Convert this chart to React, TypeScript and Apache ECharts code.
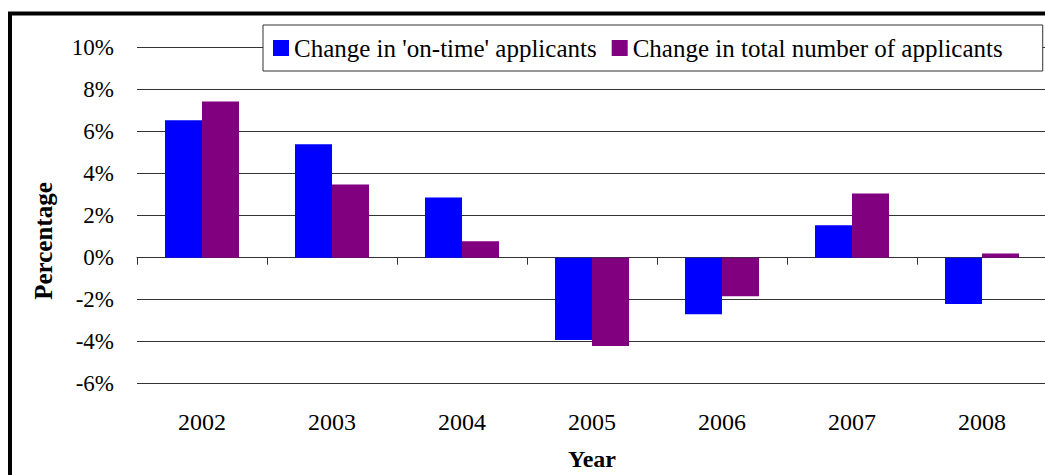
import React, { useEffect, useRef } from "react";
import * as echarts from "echarts";

const years = ["2002", "2003", "2004", "2005", "2006", "2007", "2008"];
const onTimeChange = [6.54, 5.4, 2.87, -3.92, -2.69, 1.54, -2.21];
const totalChange = [7.44, 3.49, 0.78, -4.21, -1.83, 3.06, 0.2];
const seriesNames = [
  "Change in 'on-time' applicants",
  "Change in total number of applicants",
];
const yTicks = { min: -6, max: 10, interval: 2 };

const FONT = "Liberation Serif";

export default function App() {
  const ref = useRef<HTMLDivElement>(null);
  useEffect(() => {
    document.body.style.margin = "0";
    document.body.style.overflow = "hidden";
    const chart = echarts.init(ref.current!, null, { renderer: "svg" });
    chart.setOption({
      animation: false,
      backgroundColor: "#fff",
      textStyle: { fontFamily: FONT },
      grid: {
        left: 137,
        top: 47.7,
        width: 910,
        height: 336,
        containLabel: false,
        outerBoundsMode: "none",
      },
      legend: {
        data: seriesNames,
        left: 263,
        top: 25,
        orient: "horizontal",
        icon: "rect",
        itemWidth: 16,
        itemHeight: 16,
        itemGap: 15,
        padding: [10, 40, 10, 10],
        backgroundColor: "#fff",
        borderColor: "#333",
        borderWidth: 1,
        borderRadius: 0,
        textStyle: { fontSize: 25, fontFamily: FONT, color: "#000", lineHeight: 26 },
      },
      xAxis: {
        type: "category",
        data: years,
        axisLine: { onZero: true, lineStyle: { color: "#333", width: 1 } },
        axisTick: { show: true, length: 7, lineStyle: { color: "#333", width: 1 } },
        axisLabel: { margin: 26, fontSize: 24, fontFamily: FONT, color: "#000" },
        splitLine: { show: false },
        name: "Year",
        nameLocation: "middle",
        nameGap: 63,
        nameTextStyle: { fontSize: 24, fontWeight: "bold", fontFamily: FONT, color: "#000" },
      },
      yAxis: {
        type: "value",
        min: yTicks.min,
        max: yTicks.max,
        interval: yTicks.interval,
        axisLine: { show: false },
        axisTick: { show: false },
        splitLine: { show: true, lineStyle: { color: "#333", width: 1 } },
        axisLabel: {
          formatter: "{value}%",
          margin: 23,
          fontSize: 23,
          fontFamily: FONT,
          color: "#000",
        },
      },
      series: [
        {
          name: seriesNames[0],
          type: "bar",
          data: onTimeChange,
          barWidth: 37,
          barGap: "0%",
          itemStyle: { color: "#0000FF" },
        },
        {
          name: seriesNames[1],
          type: "bar",
          data: totalChange,
          barWidth: 37,
          barGap: "0%",
          itemStyle: { color: "#800080" },
        },
      ],
      graphic: [
        {
          type: "rect",
          z: 100,
          shape: { x: 10, y: 13.5, width: 1200, height: 600 },
          style: { fill: "none", stroke: "#000", lineWidth: 4 },
        },
        {
          type: "text",
          x: 43,
          y: 241,
          rotation: Math.PI / 2,
          style: {
            text: "Percentage",
            fontSize: 25,
            fontWeight: "bold",
            fontFamily: FONT,
            fill: "#000",
            align: "center",
            verticalAlign: "middle",
          },
        },
      ],
    });
    return () => chart.dispose();
  }, []);
  return <div ref={ref} style={{ width: 1045, height: 475 }} />;
}
